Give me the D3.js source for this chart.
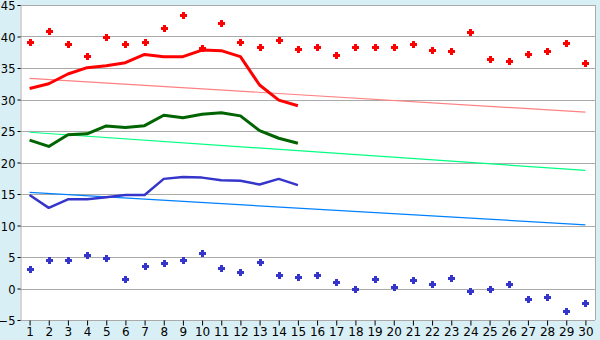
<!DOCTYPE html>
<html>
<head>
<meta charset="utf-8">
<script src="https://cdn.jsdelivr.net/npm/d3@7"></script>
<style>
  body { margin: 0; background: #d9eff6; }
  svg { display: block; }
  .tick text { font-family: "DejaVu Sans", sans-serif; fill: #000; }
</style>
</head>
<body>
<div id="chart"></div>
<script>
const days = d3.range(1, 31);

const maxPoints = [39.1, 40.8, 38.75, 36.85, 39.9, 38.75, 39.1, 41.3, 43.4, 38.2,
  42.1, 39.2, 38.3, 39.4, 37.95, 38.3, 37.0, 38.3, 38.4, 38.4,
  38.75, 37.8, 37.65, 40.65, 36.4, 36.05, 37.3, 37.65, 38.9, 35.75];
const minPoints = [3.05, 4.5, 4.5, 5.25, 4.8, 1.45, 3.5, 4.0, 4.5, 5.6,
  3.2, 2.55, 4.15, 2.1, 1.8, 2.1, 1.0, -0.15, 1.45, 0.2,
  1.3, 0.65, 1.6, -0.45, 0.0, 0.65, -1.7, -1.4, -3.6, -2.35];

const maxLine = [31.75, 32.5, 34.05, 35.05, 35.35, 35.85, 37.15, 36.8, 36.8, 37.85,
  37.75, 36.8, 32.3, 29.9, 29.0];
const meanLine = [23.55, 22.55, 24.4, 24.55, 25.8, 25.55, 25.85, 27.5, 27.1, 27.65,
  27.9, 27.4, 25.05, 23.85, 23.05];
const minLine = [14.85, 12.8, 14.15, 14.15, 14.5, 14.85, 14.85, 17.4, 17.7, 17.6,
  17.2, 17.1, 16.5, 17.4, 16.4];

// trend lines: value at day 1 and day 30
const maxTrend = [33.35, 28.0];
const meanTrend = [24.8, 18.75];
const minTrend = [15.25, 10.1];

const width = 600;
const height = 340;

const svg = d3.select('#chart')
  .append('svg')
  .attr('width', width)
  .attr('height', height);

const x = d3.scalePoint()
  .domain(days)
  .range([20, 595])
  .padding(0.5);

const y = d3.scaleLinear()
  .domain([-5, 45])
  .range([320, 5]);

svg.append('rect')
  .attr('x', 20)
  .attr('y', 5)
  .attr('width', 575)
  .attr('height', 315)
  .attr('fill', '#fff');

// gridlines
svg.append('g')
  .selectAll('line')
  .data(d3.range(-5, 50, 5))
  .enter().append('line')
  .attr('x1', 20)
  .attr('x2', 595)
  .attr('y1', (d) => Math.round(y(d)) + 0.5)
  .attr('y2', (d) => Math.round(y(d)) + 0.5)
  .attr('stroke', '#aaa')
  .attr('shape-rendering', 'crispEdges');

svg.append('line')
  .attr('x1', 595.5).attr('x2', 595.5)
  .attr('y1', 5).attr('y2', 320)
  .attr('stroke', '#aaa')
  .attr('shape-rendering', 'crispEdges');

const yAxis = svg.append('g')
  .attr('transform', 'translate(20.5,0)')
  .call(d3.axisLeft(y).tickValues(d3.range(-5, 50, 5)).tickSize(3).tickPadding(2)
    .tickFormat((d) => d < 0 ? '\u2212' + Math.abs(d) : d));
yAxis.select('.domain').attr('stroke', '#aaa');
yAxis.selectAll('.tick line').attr('stroke', '#000');
yAxis.selectAll('.tick text')
  .style('font-size', '11.5px')
  .attr('dy', '0.4em');

const xAxis = svg.append('g')
  .attr('transform', 'translate(0,320.5)')
  .call(d3.axisBottom(x).tickSize(5).tickPadding(2));
xAxis.select('.domain').remove();
xAxis.selectAll('.tick line').attr('stroke', '#000');
xAxis.selectAll('.tick text').style('font-size', '12px');

// trend lines
const trends = [
  { v: maxTrend, color: '#ff8080' },
  { v: meanTrend, color: '#00ff80' },
  { v: minTrend, color: '#0080ff' }
];
svg.append('g')
  .selectAll('line')
  .data(trends)
  .enter().append('line')
  .attr('x1', x(1))
  .attr('x2', x(30))
  .attr('y1', (d) => y(d.v[0]))
  .attr('y2', (d) => y(d.v[1]))
  .attr('stroke', (d) => d.color)
  .attr('stroke-width', 1.2);

// running lines
const line = d3.line()
  .x((d, i) => x(i + 1))
  .y((d) => y(d));

const series = [
  { v: maxLine, color: '#ff0000', w: 3 },
  { v: meanLine, color: '#006400', w: 3 },
  { v: minLine, color: '#3535cc', w: 2.5 }
];
svg.append('g')
  .selectAll('path')
  .data(series)
  .enter().append('path')
  .attr('d', (d) => line(d.v))
  .attr('fill', 'none')
  .attr('stroke', (d) => d.color)
  .attr('stroke-width', (d) => d.w)
  .attr('stroke-linejoin', 'round');

// point markers (small plus)
const marker = 'M-1.5,-3.5h3v2h2v3h-2v2h-3v-2h-2v-3h2z';
const pointSets = [
  { v: maxPoints, color: '#ff0000' },
  { v: minPoints, color: '#3535cc' }
];
pointSets.forEach((s) => {
  svg.append('g')
    .selectAll('path')
    .data(s.v)
    .enter().append('path')
    .attr('d', marker)
    .attr('transform', (d, i) => `translate(${Math.round(x(i + 1)) + 0.5},${Math.round(y(d)) + 0.5})`)
    .attr('fill', s.color)
    .attr('shape-rendering', 'crispEdges');
});
</script>
</body>
</html>
